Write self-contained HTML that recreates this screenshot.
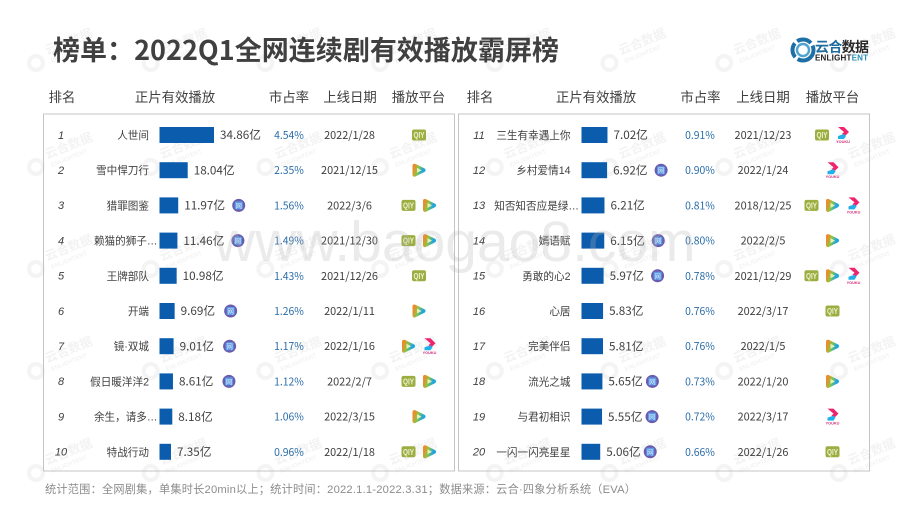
<!DOCTYPE html>
<html lang="zh-CN">
<head>
<meta charset="utf-8">
<title>2022Q1全网连续剧有效播放霸屏榜</title>
<style>
html,body{margin:0;padding:0;background:#fff;width:920px;height:518px;overflow:hidden}
svg{display:block}
text{font-family:"Liberation Sans","Noto Sans CJK SC",sans-serif}
.cjk{font-family:"Noto Sans CJK SC","Liberation Sans",sans-serif}
</style>
</head>
<body>
<svg id="chart" xmlns="http://www.w3.org/2000/svg" width="920" height="518" viewBox="0 0 920 518">
<defs>
<linearGradient id="tencent-gradient" x1="0" y1="0" x2="1" y2="0.3">
<stop offset="0" stop-color="#f08a2c"/><stop offset="0.45" stop-color="#8cc63f"/><stop offset="1" stop-color="#1fa6e0"/>
</linearGradient>
</defs>
<rect width="920" height="518" fill="#fff"/>
<g id="watermarks"></g>
<text class="cjk" x="53" y="60" font-size="27" font-weight="700" fill="#404040" textLength="506" lengthAdjust="spacing">榜单：2022Q1全网连续剧有效播放霸屏榜</text>
<g>
<circle cx="803" cy="50" r="10.5" fill="none" stroke="#1d6fa5" stroke-width="4" stroke-dasharray="22 3 15 3 15 3"/>
<circle cx="803" cy="50" r="6" fill="none" stroke="#4fa3cf" stroke-width="2.4"/>
<text class="cjk" x="815" y="52" font-size="14" font-weight="700" fill="#1f6c9f" textLength="54"><tspan>云合</tspan><tspan fill="#2a2a2a">数据</tspan></text>
<text x="815" y="60.5" font-size="8" font-weight="700" fill="#222" textLength="53">ENLIGHT<tspan fill="#2a8fb8">ENT</tspan></text>
</g>
<g id="headers"></g>
<rect x="43.5" y="114" width="411" height="357" fill="none" stroke="#c4c4c4" stroke-width="1"/>
<rect x="458.5" y="114" width="411" height="357" fill="none" stroke="#c4c4c4" stroke-width="1"/>
<g id="rows"></g>
<text x="214" y="261" font-size="57" fill="#b4b4b4" fill-opacity="0.27">www.baogao8.com</text>
<text x="45" y="493" font-size="11.2" fill="#8c8c8c" textLength="591" lengthAdjust="spacing">统计范围：全网剧集，单集时长20min以上；统计时间：2022.1.1-2022.3.31；数据来源：云合·四象分析系统（EVA）</text>
</svg>
<script>
const titles = ["人世间","雪中悍刀行","猎罪图鉴","赖猫的狮子…","王牌部队","开端","镜·双城","假日暖洋洋2","余生，请多…","特战行动","三生有幸遇上你","乡村爱情14","知否知否应是绿…","嫣语赋","勇敢的心2","心居","完美伴侣","流光之城","与君初相识","一闪一闪亮星星"];
const plays = [34.86,18.04,11.97,11.46,10.98,9.69,9.01,8.61,8.18,7.35,7.02,6.92,6.21,6.15,5.97,5.83,5.81,5.65,5.55,5.06];
const shares = [4.54,2.35,1.56,1.49,1.43,1.26,1.17,1.12,1.06,0.96,0.91,0.90,0.81,0.80,0.78,0.76,0.76,0.73,0.72,0.66];
const dates = ["2022/1/28","2021/12/15","2022/3/6","2021/12/30","2021/12/26","2022/1/11","2022/1/16","2022/2/7","2022/3/15","2022/1/18","2021/12/23","2022/1/24","2018/12/25","2022/2/5","2021/12/29","2022/3/17","2022/1/5","2022/1/20","2022/3/17","2022/1/26"];
const platforms = [["iqiyi"],["tencent"],["iqiyi","tencent"],["iqiyi","tencent"],["iqiyi"],["tencent"],["tencent","youku"],["iqiyi","tencent"],["tencent"],["iqiyi","tencent"],["iqiyi","youku"],["youku"],["iqiyi","tencent","youku"],["tencent"],["iqiyi","tencent","youku"],["iqiyi"],["tencent"],["tencent"],["youku"],["iqiyi"]];
const networkFlags = [0,0,1,1,0,1,1,1,0,0,0,1,0,1,1,0,0,1,1,1];
const headerLabels = ["排名","正片有效播放","市占率","上线日期","播放平台"];

const NS = "http://www.w3.org/2000/svg";
const panels = [
  {barX:159.5, perUnit:54.5/34.86, rank:61, name:149, share:289, date:349.5, plat:419, head:[62,175,289,350,418.5]},
  {barX:581.5, perUnit:3.7, rank:479, name:570.5, share:700, date:763, plat:832.5, head:[480,596,700.5,763,832.5]}
];
function rowY(i){ return 135 + 35.2 * (i % 10); }
function barWidth(panel, v){ return v * panel.perUnit; }
function mk(tag, attrs, parent, txt){
  const el = document.createElementNS(NS, tag);
  for (const k in attrs) el.setAttribute(k, attrs[k]);
  if (txt !== undefined) el.textContent = txt;
  parent.appendChild(el);
  return el;
}

const wm = document.getElementById("watermarks");
for (let r = 0; r < 5; r++) {
  for (let c = 0; c < 8; c++) {
    const x = 36 + 114.7 * c;
    const y = [63,167,269,371,473][r];
    const g = mk("g", {transform:"translate(" + x + "," + y + ")", fill:"#f3f3f3"}, wm);
    
    
    mk("circle", {r:"7", fill:"none", stroke:"#f4f4f4", "stroke-width":"4"}, g);
    const t1 = mk("text", {x:"11", y:"-8", "font-size":"12.5", "font-weight":"700", class:"cjk", transform:"rotate(-22 11 -8)"}, g, "云合数据");
    
    
    const t2 = mk("text", {x:"16", y:"0", "font-size":"6", "font-weight":"700", transform:"rotate(-22 16 0)"}, g, "ENLIGHTENT");
    
    
  }
}

const hg = document.getElementById("headers");
panels.forEach(function(p){
  headerLabels.forEach(function(label, i){
    const t = mk("text", {class:"cjk", x:p.head[i], y:"102", "font-size":"13.4", fill:"#404040", "text-anchor":"middle"}, hg, label);
    
    
  });
});

function drawIqiyi(g, cx, cy){
  mk("rect", {x:cx-7, y:cy-5.5, width:"14", height:"11", rx:"2", fill:"#9cae42"}, g);
  const t = mk("text", {x:cx-5.5, y:cy+3, "font-size":"8", "font-weight":"700", fill:"#eef2d0", textLength:"11", lengthAdjust:"spacingAndGlyphs"}, g, "QIY");
  
  
}
function drawTencent(g, cx, cy){
  const pts = (cx-4.5)+","+(cy-4.5)+" "+(cx+4.5)+","+cy+" "+(cx-4.5)+","+(cy+4.5);
  mk("polygon", {points:pts, fill:"url(#tencent-gradient)", stroke:"url(#tencent-gradient)", "stroke-width":"4", "stroke-linejoin":"round"}, g);
  const inner = (cx-2)+","+(cy-2.5)+" "+(cx+2.5)+","+cy+" "+(cx-2)+","+(cy+2.5);
  mk("polygon", {points:inner, fill:"#e6f0bd"}, g);
}
function drawYouku(g, cx, cy){
  mk("polygon", {points:(cx-5)+","+(cy-8)+" "+(cx+1)+","+(cy-8)+" "+(cx+6)+","+(cy-3)+" "+(cx+2)+","+(cy+1)+" "+(cx-1)+","+(cy-1)+" "+(cx+1)+","+(cy-3), fill:"#f0246e"}, g);
  mk("polygon", {points:(cx-5)+","+(cy+1)+" "+(cx+1)+","+(cy-1)+" "+(cx+3)+","+(cy+1)+" "+(cx+1)+","+(cy+4)+" "+(cx-5)+","+(cy+4), fill:"#22b0ea"}, g);
  const t = mk("text", {x:cx, y:cy+8, "font-size":"3.8", "font-weight":"700", fill:"#d22a78", "text-anchor":"middle"}, g, "YOUKU");
  
  
}
function netGap(rank){
  if (rank >= 18) return 10;
  if (rank >= 6 && rank <= 8) return 16;
  return 14;
}

const rowsG = document.getElementById("rows");
titles.forEach(function(title, i){
  const p = panels[i < 10 ? 0 : 1];
  const y = rowY(i);
  const rank = i + 1;
  const row = mk("g", {}, rowsG);
  
  

  const rt = mk("text", {x:p.rank, y:y+3.8, "font-size":"11", "font-style":"italic", fill:"#404040", "text-anchor":"middle"}, row, String(rank));
  
  

  const truncated = title.charAt(title.length - 1) === "…";
  const nt = mk("text", {x:p.name + (truncated ? 8.5 : 0), y:y+4, "font-size":"10.6", fill:"#404040", "text-anchor":"end"}, row, title);
  
  

  const w = barWidth(p, plays[i]);
  const bar = mk("rect", {x:p.barX, y:y-8, width:w, height:"16", fill:"#0b5cad"}, row);
  
  

  const labelX = p.barX + w + 6;
  const label = plays[i].toFixed(2) + "亿";
  const vt = mk("text", {class:"cjk", x:labelX, y:y+4.2, "font-size":"11.7", fill:"#404040"}, row, label);
  
  

  if (networkFlags[i]) {
    const labelEnd = labelX + 34 + (plays[i] >= 10 ? 6.5 : 0);
    const cx = labelEnd + netGap(rank);
    const ng = mk("g", {}, row);
    
    
    mk("circle", {cx:cx, cy:y, r:"6.5", fill:"#6a5bad"}, ng);
    mk("rect", {x:cx-4, y:y-4, width:"8", height:"8", rx:"1", fill:"#5b9be6"}, ng);
    const nx = mk("text", {class:"cjk", x:cx, y:y+2.5, "font-size":"6.5", fill:"#dfe9fa", "text-anchor":"middle"}, ng, "网");
    
    
  }

  const st = mk("text", {class:"cjk", x:p.share, y:y+4, "font-size":"10.4", fill:"#2a6ca8", "text-anchor":"middle"}, row, shares[i].toFixed(2) + "%");
  
  

  const dt = mk("text", {class:"cjk", x:p.date, y:y+4, "font-size":"10.9", fill:"#404040", "text-anchor":"middle"}, row, dates[i]);
  
  

  const list = platforms[i];
  list.forEach(function(name, k){
    const cx = p.plat + (k - (list.length - 1) / 2) * 21;
    const ig = mk("g", {}, row);
    
    
    if (name === "iqiyi") drawIqiyi(ig, cx, y);
    if (name === "tencent") drawTencent(ig, cx, y);
    if (name === "youku") drawYouku(ig, cx, y);
  });
});
</script>
</body>
</html>
